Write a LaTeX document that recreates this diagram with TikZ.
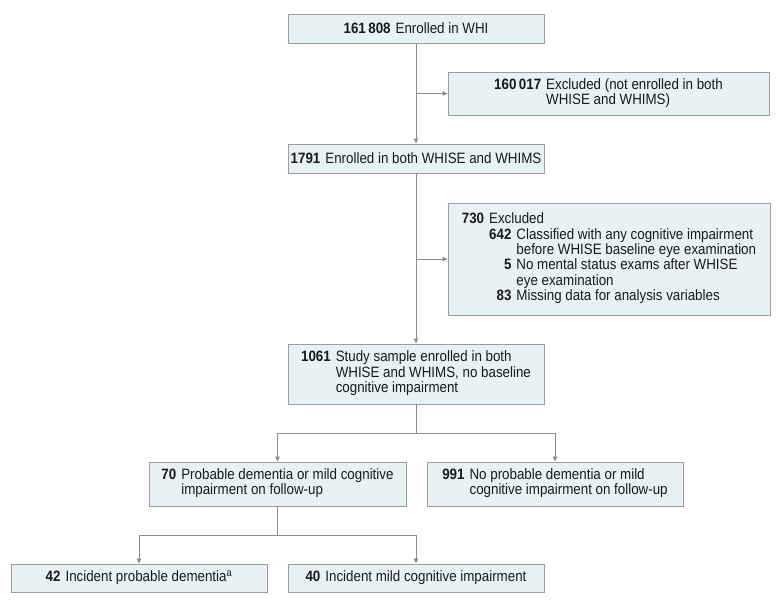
\documentclass[tikz,border=0pt]{standalone}
\usepackage{fontspec}
\setmainfont[FakeStretch=0.89]{Liberation Sans}
\usetikzlibrary{arrows.meta}
\definecolor{boxfill}{HTML}{E8F1F4}
\definecolor{boxline}{HTML}{9C9C9C}
\definecolor{conn}{HTML}{8C8C8C}
\definecolor{txt}{HTML}{1A1A1A}
\newcommand{\nt}[2]{\textbf{#1}\hspace{5pt}#2}
\newcommand{\hang}[1]{\begin{tabular}{@{}r@{\hspace{5pt}}l@{}}#1\end{tabular}}
\tikzset{
  fbox/.style={draw=boxline, fill=boxfill, line width=0.9pt, inner sep=0pt,
    text=txt, font=\fontsize{15}{14.9}\selectfont, align=left},
  conn/.style={draw=conn, line width=0.9pt},
  arr/.style={conn, -{Triangle[length=5pt,width=4.5pt]}}
}
\begin{document}
\begin{tikzpicture}[x=1pt,y=-1pt]
\useasboundingbox[fill=white] (0,0) rectangle (780,605);

\node[fbox, minimum width=256pt, minimum height=29pt] (top) at (416,28.5)
  {\nt{161\,808}{Enrolled in WHI}};
\node[fbox, minimum width=321pt, minimum height=43pt] (excl1) at (608.5,93.5)
  {\hang{\textbf{160\,017} & Excluded (not enrolled in both\\ & WHISE and WHIMS)}};
\node[fbox, minimum width=256pt, minimum height=29pt] (n1791) at (416,158.5)
  {\nt{1791}{Enrolled in both WHISE and WHIMS}};
\node[fbox, minimum width=322pt, minimum height=112pt] (excl2) at (609,259)
  {\begin{tabular}{@{}l@{\hspace{5pt}}r@{\hspace{5pt}}l@{}}
   \textbf{730} & \multicolumn{2}{@{}l@{}}{Excluded}\\
   & \textbf{642} & Classified with any cognitive impairment\\
   & & before WHISE baseline eye examination\\
   & \textbf{5} & No mental status exams after WHISE\\
   & & eye examination\\
   & \textbf{83} & Missing data for analysis variables
   \end{tabular}};
\node[fbox, minimum width=256pt, minimum height=60pt] (n1061) at (416,374)
  {\hang{\textbf{1061} & Study sample enrolled in both\\ & WHISE and WHIMS, no baseline\\ & cognitive impairment}};
\node[fbox, minimum width=257pt, minimum height=44pt] (n70) at (277.5,484)
  {\hang{\textbf{70} & Probable dementia or mild cognitive\\ & impairment on follow-up}};
\node[fbox, minimum width=256pt, minimum height=44pt] (n991) at (555,484)
  {\hang{\textbf{991} & No probable dementia or mild\\ & cognitive impairment on follow-up}};
\node[fbox, minimum width=256pt, minimum height=28pt] (n42) at (139,578)
  {\nt{42}{Incident probable dementia\textsuperscript{a}}};
\node[fbox, minimum width=256pt, minimum height=28pt] (n40) at (416,578)
  {\nt{40}{Incident mild cognitive impairment}};

\draw[arr] (top) -- (n1791);
\draw[arr] (top.south |- excl1.west) -- (excl1.west);
\draw[arr] (n1791) -- (n1061);
\draw[arr] (n1791.south |- excl2.west) -- (excl2.west);
\draw[conn] (n1061.south) -- ++(0,29) coordinate (s1);
\draw[arr] (s1) -| (n70.north);
\draw[arr] (s1) -| (n991.north);
\draw[conn] (n70.south) -- ++(0,29) coordinate (s2);
\draw[arr] (s2) -| (n42.north);
\draw[arr] (s2) -| (n40.north);
\end{tikzpicture}
\end{document}
